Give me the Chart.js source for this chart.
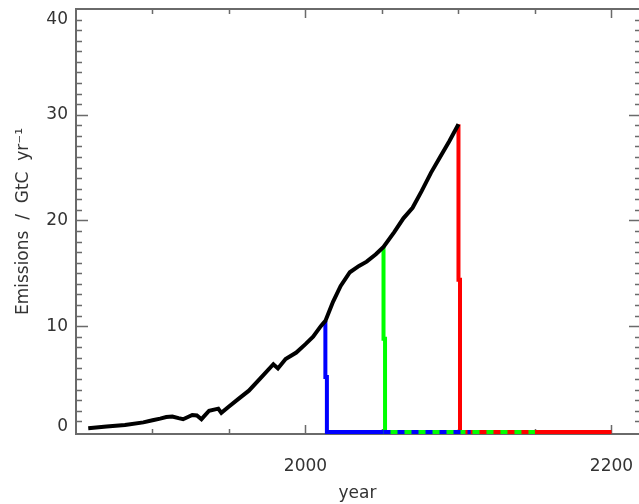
<!DOCTYPE html>
<html>
<head>
<meta charset="utf-8">
<script src="https://cdn.jsdelivr.net/npm/chart.js@4/dist/chart.umd.min.js"></script>
<style>
  html, body { margin: 0; padding: 0; background: #fff; overflow: hidden; }
</style>
</head>
<body>
<canvas id="myChart" width="639" height="504"></canvas>
<script>
// black curve: historical + projected emissions (GtC/yr)
const years = [1858, 1870, 1882, 1894, 1900, 1905, 1909, 1913, 1917, 1920, 1926, 1929, 1932, 1937,
               1943, 1945, 1950, 1956, 1963, 1972, 1979, 1982, 1987, 1994, 2000, 2005, 2010, 2013,
               2018, 2023, 2029, 2035, 2040, 2046, 2051, 2058, 2064, 2070, 2076, 2082, 2088, 2094, 2100]
const emissions = [0.35, 0.5, 0.65, 0.9, 1.1, 1.25, 1.4, 1.45, 1.3, 1.2, 1.6, 1.55, 1.2, 2.0,
                   2.2, 1.8, 2.4, 3.1, 3.9, 5.3, 6.4, 6.0, 6.9, 7.5, 8.3, 9.0, 10.0, 10.5,
                   12.3, 13.8, 15.1, 15.7, 16.1, 16.8, 17.5, 18.9, 20.2, 21.2, 22.8, 24.5, 26.0, 27.5, 29.1]

// cut-off scenarios
const blueYears = [2013, 2013, 2014, 2014, 2051]
const blueVals = [10.5, 5.2, 5.2, 0, 0]
const blueTailYears = [2051, 2108]
const blueTailVals = [0, 0]
const greenYears = [2051, 2051, 2052, 2052, 2100]
const greenVals = [17.5, 8.8, 8.8, 0, 0]
const greenTailYears = [2100, 2150]
const greenTailVals = [0, 0]
const redYears = [2100, 2100, 2101, 2101, 2200]
const redVals = [29.1, 14.4, 14.4, 0, 0]

// ticks
const xTicks = [1900, 1950, 2000, 2050, 2100, 2150, 2200]
const xLabels = [2000, 2200]
const yLabels = [0, 10, 20, 30, 40]

function pts(xs, ys) {
  return xs.map((x, i) => ({x: x, y: ys[i]}))
}

// box with inward ticks (right edge of the box sits just off the canvas)
const boxPlugin = {
  id: 'box',
  beforeDatasetsDraw(chart) {
    const ctx = chart.ctx
    const a = chart.chartArea
    const xs = chart.scales.x
    const ys = chart.scales.y
    const rightEdge = a.right + 2
    ctx.save()
    ctx.strokeStyle = '#6a6a6a'
    ctx.lineWidth = 2
    ctx.beginPath()
    ctx.moveTo(rightEdge, a.top); ctx.lineTo(a.left, a.top)
    ctx.lineTo(a.left, a.bottom); ctx.lineTo(rightEdge, a.bottom)
    ctx.stroke()
    ctx.lineWidth = 1.5
    ctx.beginPath()
    xTicks.forEach(v => {
      const px = Math.round(xs.getPixelForValue(v)) + 0.5
      const len = v % 200 === 0 ? 9 : 5
      ctx.moveTo(px, a.bottom); ctx.lineTo(px, a.bottom - len)
      ctx.moveTo(px, a.top); ctx.lineTo(px, a.top + len)
    })
    for (let v = 1; v < 40; v++) {
      const py = Math.round(ys.getPixelForValue(v)) + 0.5
      const len = v % 10 === 0 ? 12 : 6
      ctx.moveTo(a.left, py); ctx.lineTo(a.left + len, py)
      ctx.moveTo(rightEdge, py); ctx.lineTo(rightEdge - len, py)
    }
    ctx.stroke()
    ctx.fillStyle = '#333'
    ctx.font = '17px "DejaVu Sans"'
    ctx.textAlign = 'right'
    ctx.textBaseline = 'middle'
    yLabels.forEach(v => {
      let py = ys.getPixelForValue(v)
      py = Math.min(Math.max(py, a.top + 11), a.bottom - 7)
      ctx.fillText(String(v), a.left - 8, py)
    })
    ctx.restore()
  }
}

Chart.defaults.font.family = '"DejaVu Sans"'
Chart.defaults.font.size = 17
Chart.defaults.color = '#333'

const ctx = document.getElementById('myChart').getContext('2d')
const chart = new Chart(ctx, {
  type: 'line',
  data: {
    datasets: [
      {data: pts(years, emissions), borderColor: '#000', borderWidth: 4, order: 0},
      {data: pts(blueTailYears, blueTailVals), borderColor: '#0000ff', borderWidth: 4, borderDash: [7, 7], order: 1},
      {data: pts(greenTailYears, greenTailVals), borderColor: '#00ff00', borderWidth: 4, borderDash: [7, 7], order: 2},
      {data: pts(blueYears, blueVals), borderColor: '#0000ff', borderWidth: 4, order: 3},
      {data: pts(greenYears, greenVals), borderColor: '#00ff00', borderWidth: 4, order: 4},
      {data: pts(redYears, redVals), borderColor: '#ff0000', borderWidth: 4, order: 5}
    ]
  },
  options: {
    responsive: false,
    animation: false,
    events: [],
    clip: false,
    layout: {padding: {top: 9, right: 0, left: 0, bottom: 0}},
    elements: {
      point: {radius: 0},
      line: {tension: 0, borderCapStyle: 'butt', borderJoinStyle: 'miter', fill: false}
    },
    plugins: {legend: {display: false}, tooltip: {enabled: false}},
    scales: {
      x: {
        type: 'linear',
        min: 1850,
        max: 2218,
        grid: {display: false},
        border: {display: false},
        afterBuildTicks: s => { s.ticks = xTicks.map(v => ({value: v})) },
        afterFit: s => { s.height = 70; s.paddingLeft = 0; s.paddingRight = 0 },
        ticks: {
          maxRotation: 0,
          autoSkip: false,
          padding: 14,
          callback: v => xLabels.includes(v) ? String(v) : ''
        },
        title: {display: true, text: 'year', padding: {top: 2, bottom: 0}}
      },
      y: {
        min: -0.2,
        max: 40,
        grid: {display: false},
        border: {display: false},
        ticks: {display: false},
        afterFit: s => { s.width = 76; s.paddingTop = 0; s.paddingBottom = 0 },
        title: {display: true, text: 'Emissions  /  GtC  yr\u207B\u00B9', padding: {top: 13, bottom: 0}}
      }
    }
  },
  plugins: [boxPlugin]
})
</script>
</body>
</html>
